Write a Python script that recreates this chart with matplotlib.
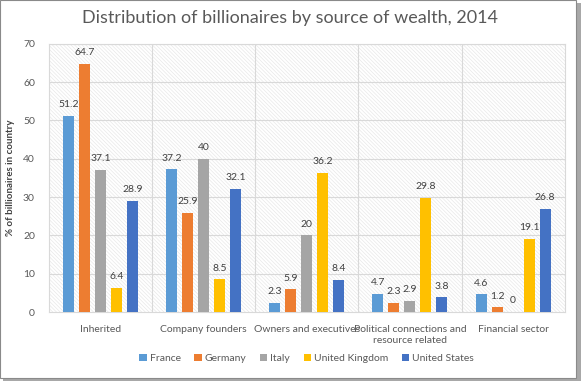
import numpy as np
import matplotlib.pyplot as plt
from matplotlib.patches import Rectangle

categories = ["Inherited", "Company founders", "Owners and executives",
              "Political connections and\nresource related", "Financial sector"]
countries = ["France", "Germany", "Italy", "United Kingdom", "United States"]
values = {
    "France": [51.2, 37.2, 2.3, 4.7, 4.6],
    "Germany": [64.7, 25.9, 5.9, 2.3, 1.2],
    "Italy": [37.1, 40, 20, 2.9, 0],
    "United Kingdom": [6.4, 8.5, 36.2, 29.8, 19.1],
    "United States": [28.9, 32.1, 8.4, 3.8, 26.8],
}
colors = ["#5b9bd5", "#ed7d31", "#a5a5a5", "#ffc000", "#4472c4"]

plt.rcParams['font.family'] = ['Lato', 'DejaVu Sans']
plt.rcParams['hatch.linewidth'] = 0.5
text_col = "#595959"

fig = plt.figure(figsize=(5.81, 3.81), dpi=100)
ax = fig.add_axes([0.084, 0.181, 0.888, 0.704])

# frame around the picture with a small shadow
fig.patches.append(Rectangle((0.005, 0.0), 0.995, 0.993, transform=fig.transFigure,
                             facecolor="#a8a8a8", edgecolor="none", zorder=-3))
fig.patches.append(Rectangle((0.0, 0.008), 0.991, 0.992, transform=fig.transFigure,
                             facecolor="white", edgecolor="#8a8a8a", lw=0.8, zorder=-2))

x = np.arange(len(categories))
width = 0.107
step = 0.155

# hatched plot background
ax.add_patch(Rectangle((-0.5, 0), len(categories), 70, facecolor="white",
                       edgecolor="#e8e8e8", hatch="\\" * 9, lw=0, zorder=0))

for i, c in enumerate(countries):
    pos = x + (i - 2) * step
    ax.bar(pos, values[c], width, color=colors[i], label=c, zorder=3)
    for px, v in zip(pos, values[c]):
        ax.text(px, v + 1.8, f"{v:g}", ha="center", va="bottom", fontsize=7.5,
                color="#404040", zorder=4)

ax.set_xlim(-0.5, len(categories) - 0.5)
ax.set_ylim(0, 70)
ax.set_yticks(range(0, 71, 10))
for y in range(10, 71, 10):
    ax.axhline(y, color="#d9d9d9", lw=0.8, zorder=1)
for b in np.arange(0.5, len(categories) - 0.5, 1):
    ax.axvline(b, color="#d9d9d9", lw=0.8, zorder=1)

ax.set_xticks(x)
ax.set_xticklabels(categories, fontsize=7.5, color=text_col, linespacing=1.3)
ax.tick_params(axis="y", labelsize=7.5, colors=text_col, length=0, pad=10)
ax.tick_params(axis="x", length=0, pad=9)
for s in ["left", "right", "top", "bottom"]:
    ax.spines[s].set_color("#d9d9d9")

ax.set_ylabel("% of billionaires in country", fontsize=7, fontweight="bold",
              color="#404040", labelpad=6)

fig.suptitle("Distribution of billionaires by source of wealth, 2014",
             y=0.975, fontsize=13, color=text_col)

ax.legend(loc="upper center", bbox_to_anchor=(0.5, -0.12), ncol=5, frameon=False,
          fontsize=7.5, handlelength=0.7, handleheight=0.7, handletextpad=0.3,
          columnspacing=1.3, labelcolor=text_col)

fig.savefig("out.png", dpi=100)
